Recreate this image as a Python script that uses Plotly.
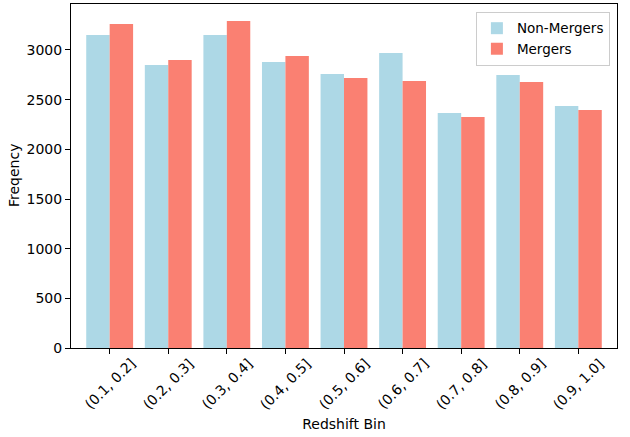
import plotly.graph_objects as go

categories = ["(0.1, 0.2]", "(0.2, 0.3]", "(0.3, 0.4]", "(0.4, 0.5]", "(0.5, 0.6]",
              "(0.6, 0.7]", "(0.7, 0.8]", "(0.8, 0.9]", "(0.9, 1.0]"]
non_mergers = [3150, 2850, 3150, 2880, 2758, 2970, 2366, 2748, 2436]
mergers = [3262, 2900, 3292, 2940, 2718, 2688, 2326, 2678, 2396]
y_ticks = [0, 500, 1000, 1500, 2000, 2500, 3000]
x_title = "Redshift Bin"
y_title = "Freqency"

FONT = "DejaVu Sans"
FS = 14
xs = list(range(len(categories)))

fig = go.Figure()
fig.add_trace(go.Bar(x=xs, y=non_mergers, name="Non-Mergers", marker_color="#ADD8E6",
                     marker_line_width=0))
fig.add_trace(go.Bar(x=xs, y=mergers, name="Mergers", marker_color="#FA8072",
                     marker_line_width=0))

annotations = []
for i, lab in enumerate(categories):
    annotations.append(dict(x=i, y=0, xref="x", yref="paper", text=lab, textangle=-45,
                            showarrow=False, xanchor="center", yanchor="middle",
                            yshift=-36, font=dict(family=FONT, size=FS, color="black")))
annotations.append(dict(x=0, y=0.5, xref="paper", yref="paper", text=y_title,
                        textangle=-90, showarrow=False, xanchor="center",
                        yanchor="middle", xshift=-57,
                        font=dict(family=FONT, size=FS, color="black")))

fig.update_layout(
    width=630, height=437,
    margin=dict(l=71, r=13, t=4, b=89),
    paper_bgcolor="white", plot_bgcolor="white",
    barmode="group", bargap=0.2, bargroupgap=0,
    font=dict(family=FONT, size=FS, color="black"),
    showlegend=True,
    legend=dict(x=0.987, y=0.977, xanchor="right", yanchor="top",
                bgcolor="rgba(255,255,255,0.8)", bordercolor="#cccccc", borderwidth=1,
                font=dict(family=FONT, size=13.5), traceorder="normal",
                itemwidth=30, tracegroupgap=0),
    annotations=annotations,
)
fig.update_xaxes(range=[-0.66, 8.66], tickvals=xs, showticklabels=False,
                 ticks="outside", ticklen=5, tickcolor="black",
                 showline=True, linecolor="black", linewidth=1, mirror=True,
                 showgrid=False, zeroline=False, automargin=False,
                 title=dict(text=x_title, standoff=66, font=dict(family=FONT, size=FS)))
fig.update_yaxes(range=[0, 3463], tickvals=y_ticks, ticks="outside", ticklen=5,
                 tickcolor="black", showline=True, linecolor="black", linewidth=1,
                 mirror=True, showgrid=False, zeroline=False, automargin=False,
                 tickfont=dict(family=FONT, size=FS))

fig.write_html("out.html", config={"displayModeBar": False},
               post_script="document.body.style.margin='0';")
